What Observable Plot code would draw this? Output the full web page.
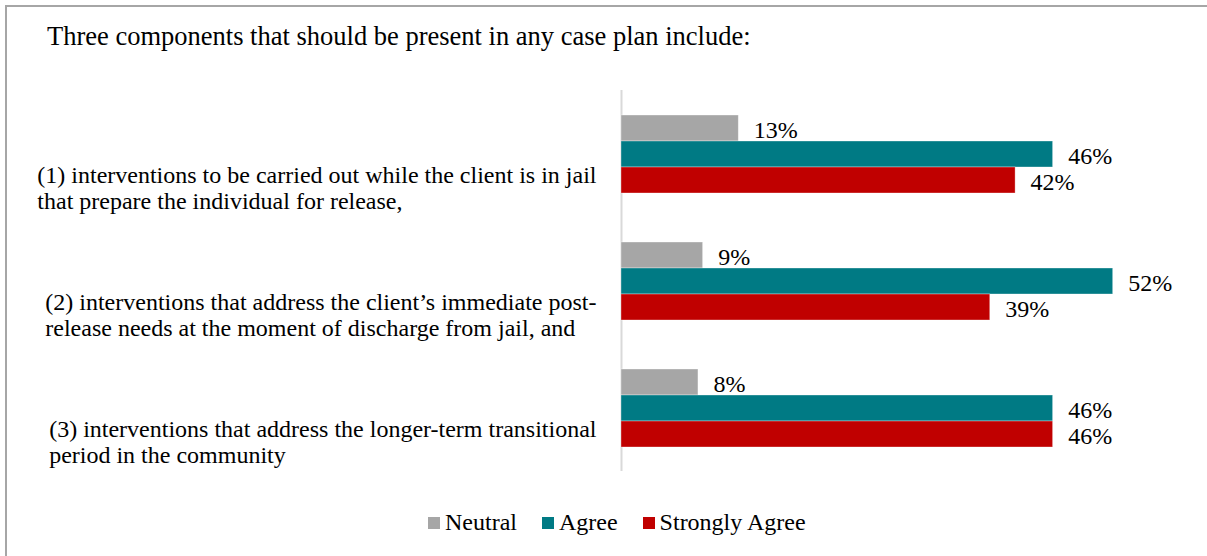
<!DOCTYPE html>
<html>
<head>
<meta charset="utf-8">
<script src="https://cdn.jsdelivr.net/npm/d3@7"></script>
<script src="https://cdn.jsdelivr.net/npm/@observablehq/plot@0.6"></script>
<style>
html, body { margin: 0; padding: 0; background: #fff; overflow: hidden; width: 1207px; height: 556px; }
#wrap { position: relative; width: 1207px; height: 556px; font-family: "Liberation Serif", "Times New Roman", serif; color: #000; }
#frame { position: absolute; left: 5px; top: 5px; width: 1400px; height: 800px; border: 2px solid #a6a6a6; box-sizing: border-box; }
#title { position: absolute; left: 47px; top: 23px; font-size: 26.5px; line-height: 26px; white-space: nowrap; }
#chart { position: absolute; left: 0; top: 0; }
#chart svg text { font-family: "Liberation Serif", "Times New Roman", serif; }
#legend { position: absolute; left: 428px; top: 509px; display: flex; align-items: center; font-size: 24px; line-height: 26px; white-space: nowrap; }
#legend .item { display: flex; align-items: center; margin-right: 25px; }
#legend .sw { width: 12px; height: 12px; margin-right: 5px; margin-top: 2px; }
</style>
</head>
<body>
<div id="wrap">
  <div id="frame"></div>
  <div id="title"></div>
  <div id="chart"></div>
  <div id="legend"></div>
</div>
<script>
const titleText = "Three components that should be present in any case plan include:";
const categories = [
  "(1) interventions to be carried out while the client is in jail\nthat prepare the individual for release,",
  "(2) interventions that address the client\u2019s immediate post-\nrelease needs at the moment of discharge from jail, and",
  "(3) interventions that address the longer-term transitional\nperiod in the community"
];
const series = ["Neutral", "Agree", "Strongly Agree"];
const neutral = [12.5, 8.7, 8.2];
const agree = [46.0, 52.4, 46.0];
const stronglyAgree = [42.0, 39.3, 46.0];
const colors = ["#a6a6a6", "#007a84", "#c00000"];

const seriesValues = [neutral, agree, stronglyAgree];
const rows = [];
categories.forEach((c, i) => {
  series.forEach((s, j) => rows.push({category: c, series: s, value: seriesValues[j][i]}));
});

document.getElementById("title").textContent = titleText;

const serif = "Liberation Serif, Times New Roman, serif";

const plot = Plot.plot({
  width: 1207,
  height: 556,
  marginLeft: 621,
  marginRight: 23,
  marginTop: 89,
  marginBottom: 85,
  x: {domain: [0, 60], axis: null},
  y: {domain: series, axis: null, paddingInner: 0, paddingOuter: 0.917},
  fy: {domain: categories, axis: null, padding: 0},
  color: {domain: series, range: colors},
  style: {fontFamily: serif, fontSize: "24px", color: "#000", background: "transparent", overflow: "visible"},
  marks: [
    Plot.ruleX(categories, {x: 0, fy: d => d, stroke: "#d9d9d9", strokeWidth: 2}),
    Plot.barX(rows, {x: "value", y: "series", fy: "category", fill: "series", stroke: "#ffffff", strokeOpacity: 0.45, strokeWidth: 0.75}),
    Plot.text(rows, {x: "value", y: "series", fy: "category", text: d => Math.round(d.value) + "%", textAnchor: "start", dx: 15, dy: 2, fontSize: 24, fontFamily: serif, fill: "#000"}),
    Plot.text(categories, {fy: d => d, frameAnchor: "left", text: d => d, textAnchor: "end", dx: -25, dy: 34, fontSize: 24, fontFamily: serif, lineHeight: 1.07, fill: "#000"})
  ]
});
document.getElementById("chart").appendChild(plot);

// left-align the lines of each wrapped category label within its block
plot.querySelectorAll("text").forEach(t => {
  const spans = Array.from(t.querySelectorAll("tspan"));
  if (spans.length < 2) return;
  const w = Math.max(...spans.map(s => s.getComputedTextLength()));
  t.setAttribute("text-anchor", "start");
  t.style.textAnchor = "start";
  spans.forEach(s => { s.setAttribute("x", -w); s.setAttribute("text-anchor", "start"); });
});

const legend = document.getElementById("legend");
series.forEach((s, j) => {
  const item = document.createElement("div");
  item.className = "item";
  const sw = document.createElement("div");
  sw.className = "sw";
  sw.style.background = colors[j];
  const lab = document.createElement("span");
  lab.textContent = s;
  item.appendChild(sw);
  item.appendChild(lab);
  legend.appendChild(item);
});
</script>
</body>
</html>
